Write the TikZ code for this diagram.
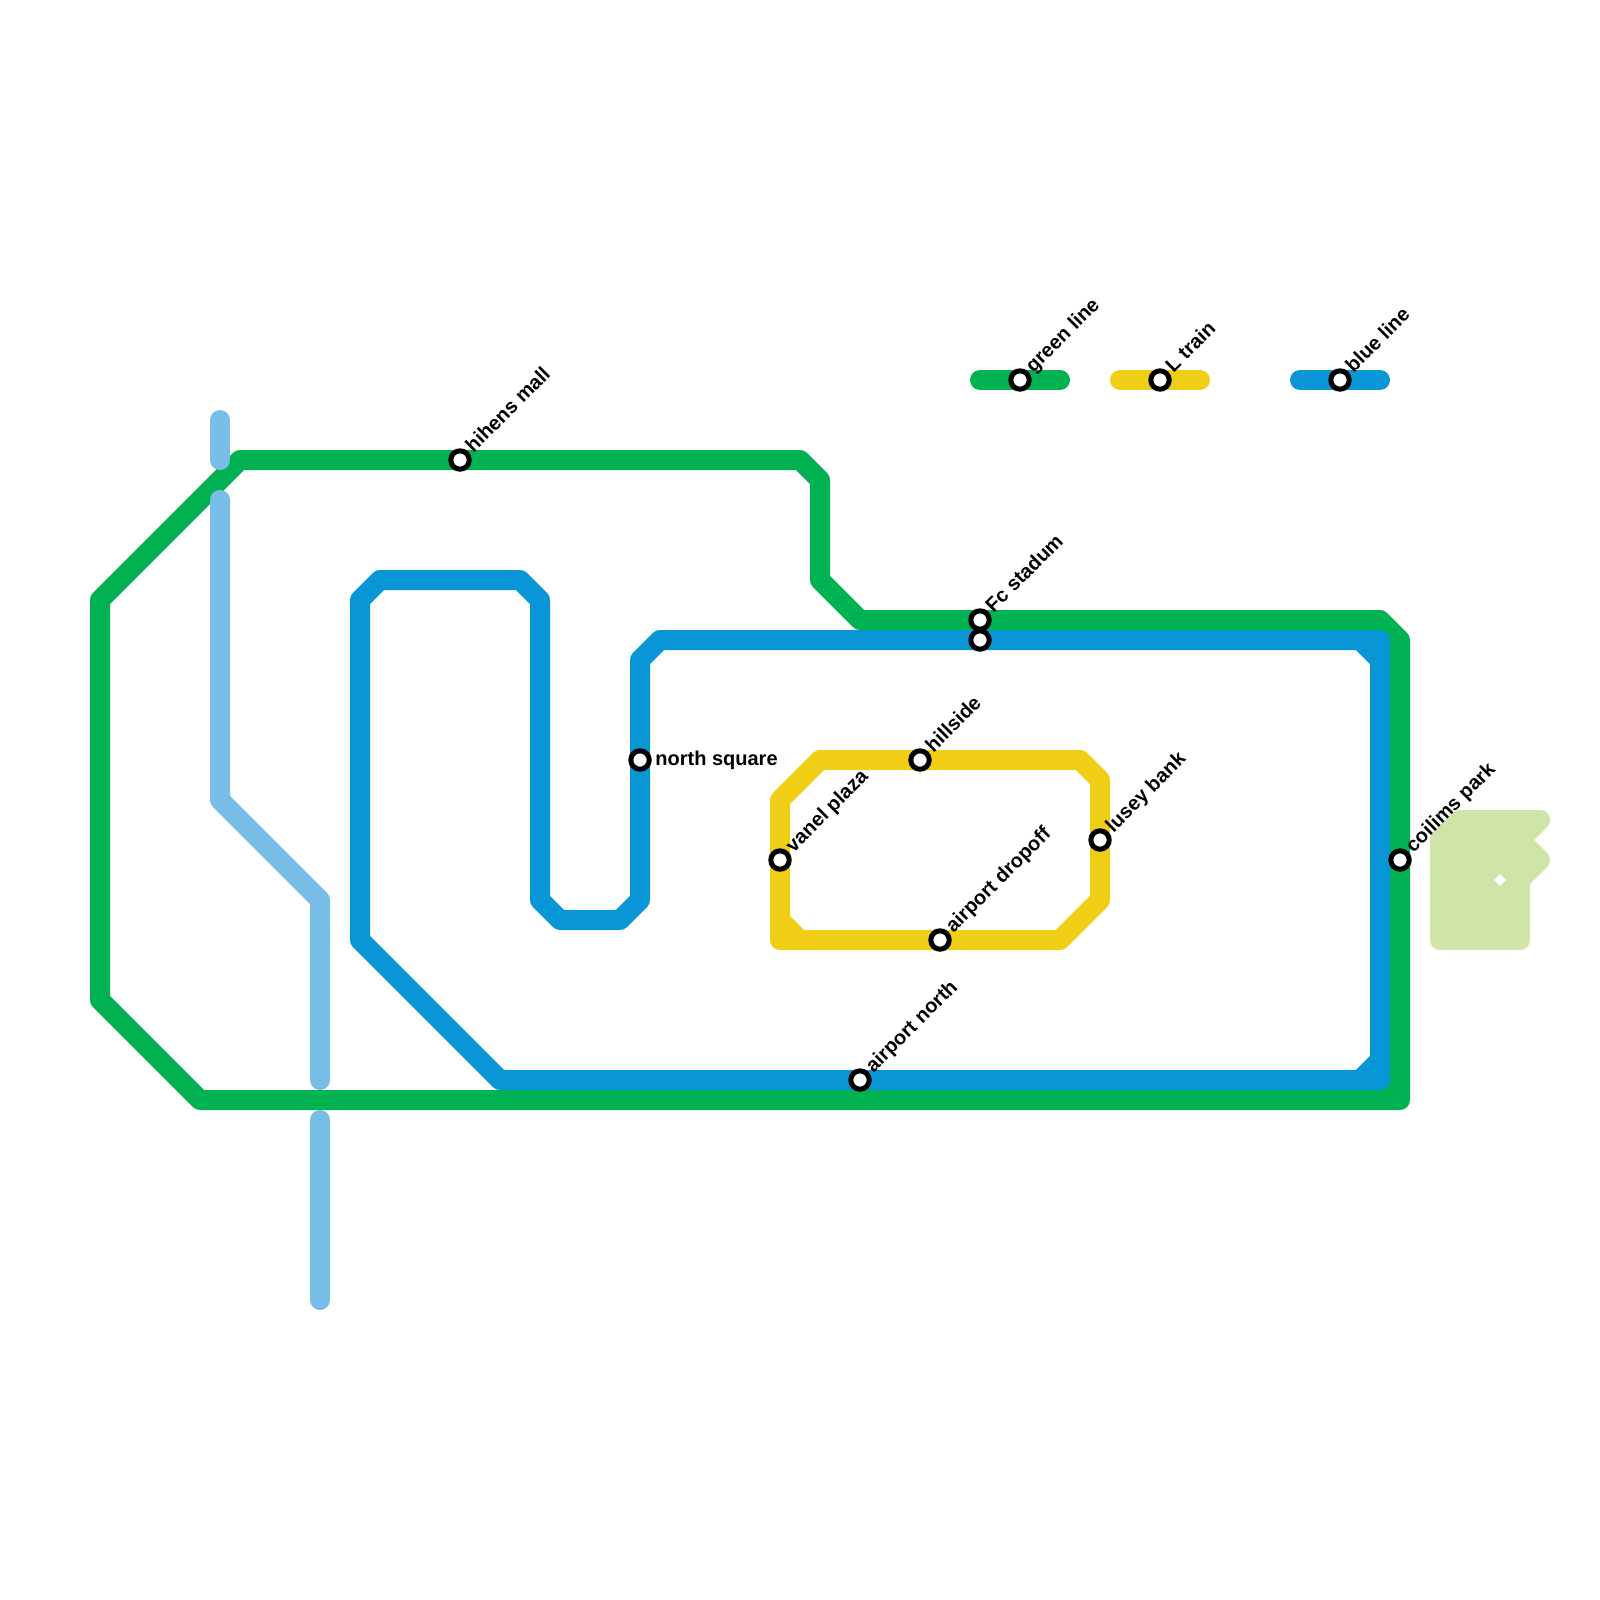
\documentclass[tikz,border=0pt]{standalone}
\usepackage{fontspec}
\setmainfont{Liberation Sans}
\definecolor{linegreen}{HTML}{00B251}
\definecolor{lineblue}{HTML}{0896D7}
\definecolor{lineyellow}{HTML}{F0CE15}
\definecolor{lightline}{HTML}{79BDE9}
\definecolor{parkgreen}{HTML}{CFE4A7}
\tikzset{
  metro/.style={line width=10pt,line join=round,line cap=round},
  stationdot/.style={circle,draw=black,fill=white,line width=2.5pt,minimum size=9.2pt,inner sep=0pt,outer sep=0pt},
  slabel/.style={font=\fontsize{10}{12}\selectfont\bfseries,anchor=west,inner sep=0pt,text height=7.2pt,text depth=0pt,rotate=45,xshift=7pt,yshift=1.2pt},
  hlabel/.style={font=\fontsize{10}{12}\selectfont\bfseries,anchor=west,inner sep=0pt,xshift=7.5pt}
}
\begin{document}
\begin{tikzpicture}[x=0.5pt,y=-0.5pt]
\useasboundingbox (0,0) rectangle (1600,1600);
% park
\fill[parkgreen,draw=parkgreen,line width=10pt,line join=round]
  (1440,840) -- (1460,820) -- (1540,820) -- (1520,840) -- (1540,860) -- (1520,880) -- (1520,940) -- (1440,940) -- cycle;
\fill[white] (1500,874) -- (1506,880) -- (1500,886) -- (1494,880) -- cycle;
% green
\draw[metro,linegreen] (100,600) -- (240,460) -- (800,460) -- (820,480) -- (820,580) -- (860,620) -- (1380,620) -- (1400,640) -- (1400,1100) -- (200,1100) -- (100,1000) -- cycle;
\fill[linegreen] (1375,1075) rectangle (1395,1095);
% blue
\draw[metro,lineblue] (360,600) -- (380,580) -- (520,580) -- (540,600) -- (540,900) -- (560,920) -- (620,920) -- (640,900) -- (640,660) -- (660,640) -- (1380,640) -- (1380,1080) -- (500,1080) -- (360,940) -- cycle;
\draw[metro,lineblue] (1360,640) -- (1380,660);
\draw[metro,lineblue] (1360,1080) -- (1380,1060);
% yellow
\draw[metro,lineyellow] (780,800) -- (820,760) -- (1080,760) -- (1100,780) -- (1100,900) -- (1060,940) -- (780,940) -- cycle;
\draw[metro,lineyellow] (780,920) -- (800,940);
% light blue
\draw[metro,lightline] (220,420) -- (220,460);
\draw[metro,lightline] (220,500) -- (220,800) -- (320,900) -- (320,1080);
\draw[metro,lightline] (320,1120) -- (320,1300);
% legend
\draw[metro,linegreen] (980,380) -- (1060,380);
\draw[metro,lineyellow] (1120,380) -- (1200,380);
\draw[metro,lineblue] (1300,380) -- (1380,380);
% stations
\node[stationdot] (s1) at (460,460) {};
\node[stationdot] (s2) at (640,760) {};
\node[stationdot] (s3) at (780,860) {};
\node[stationdot] (s4) at (920,760) {};
\node[stationdot] (s5) at (940,940) {};
\node[stationdot] (s6) at (1100,840) {};
\node[stationdot] (s7) at (980,620) {};
\node[stationdot] (s7b) at (980,640) {};
\node[stationdot] (s8) at (860,1080) {};
\node[stationdot] (s9) at (1400,860) {};
\node[stationdot] (s10) at (1020,380) {};
\node[stationdot] (s11) at (1160,380) {};
\node[stationdot] (s12) at (1340,380) {};
% labels
\node[slabel] (l1) at (s1.center) {hihens mall};
\node[hlabel] (l2) at (s2.center) {north square};
\node[slabel] (l3) at (s3.center) {vanel plaza};
\node[slabel] (l4) at (s4.center) {hillside};
\node[slabel] (l5) at (s5.center) {airport dropoff};
\node[slabel] (l6) at (s6.center) {lusey bank};
\node[slabel] (l7) at (s7.center) {Fc stadum};
\node[slabel] (l8) at (s8.center) {airport north};
\node[slabel] (l9) at (s9.center) {coilims park};
\node[slabel] (l10) at (s10.center) {green line};
\node[slabel] (l11) at (s11.center) {L train};
\node[slabel] (l12) at (s12.center) {blue line};
\end{tikzpicture}
\end{document}
